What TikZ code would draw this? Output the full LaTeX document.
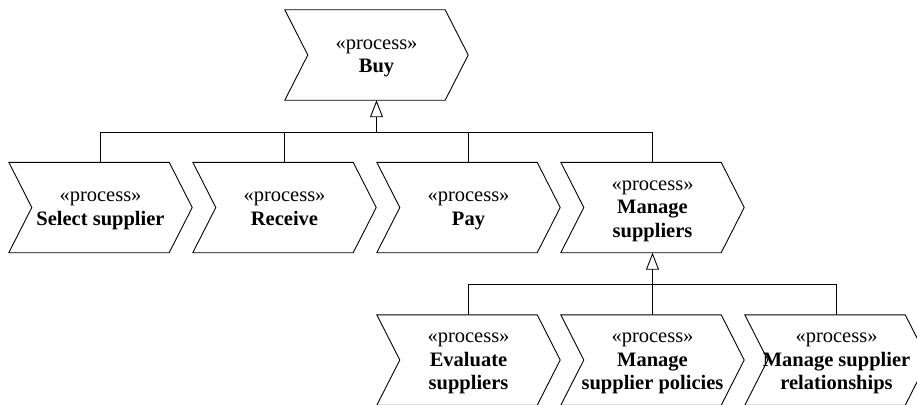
\documentclass[tikz,border=0pt]{standalone}
\usepackage{fontspec}
\setmainfont{Liberation Serif}
\newfontfamily\procfont{Liberation Serif}
\usetikzlibrary{arrows.meta}
\tikzset{
  proc/.style={rectangle, minimum width=183pt, minimum height=90pt, inner sep=0pt,
    align=center, font=\procfont\fontsize{20.5}{23.5}\selectfont},
  outline/.style={draw, line width=0.9pt, line join=miter},
  link/.style={draw, line width=0.9pt},
  gen/.style={link, -{Triangle[open, length=17pt, width=13pt, line width=0.9pt]}},
}
% stereotype line with a fixed top strut, name lines in bold,
% the last name line with a fixed bottom strut
\newcommand\stereo{\rule{0pt}{17pt}«process»}
\newcommand\pname[1]{\textbf{#1}}
\newcommand\plast[1]{\textbf{#1}\rule[-5pt]{0pt}{5pt}}
\begin{document}
\begin{tikzpicture}[x=1pt, y=1pt]
\useasboundingbox (0,0) rectangle (917,-404);
\clip (0,0) rectangle (917,-404);

% process nodes (text only; outlines drawn below)
\node[proc] (buy) at (376.5,-55)    {\stereo\\\plast{Buy}};
\node[proc] (sel) at (100.5,-207.5) {\stereo\\\plast{Select supplier}};
\node[proc] (rcv) at (284.5,-207.5) {\stereo\\\plast{Receive}};
\node[proc] (pay) at (468.5,-207.5) {\stereo\\\plast{Pay}};
\node[proc] (mgs) at (652.5,-207.5) {\stereo\\\pname{Manage}\\\plast{suppliers}};
\node[proc] (evl) at (468.5,-360)   {\stereo\\\pname{Evaluate}\\\plast{suppliers}};
\node[proc] (pol) at (652.5,-360)   {\stereo\\\pname{Manage}\\\plast{supplier policies}};
\node[proc] (rel) at (836.5,-360)   {\stereo\\\pname{Manage supplier}\\\plast{relationships}};

% chevron outlines
\foreach \n in {buy,sel,rcv,pay,mgs,evl,pol,rel}
  \draw[outline] (\n.north west) -- ([xshift=-23pt]\n.north east) -- (\n.east)
    -- ([xshift=-23pt]\n.south east) -- (\n.south west) -- ([xshift=23pt]\n.west) -- cycle;

% generalisation trees
\coordinate (bar1) at (0,-132);
\coordinate (bar2) at (0,-284);
\coordinate (j1) at (buy.south |- bar1);
\coordinate (j2) at (mgs.south |- bar2);
\foreach \c in {sel,rcv,pay,mgs} \draw[link] (\c.north) |- (j1);
\draw[gen] (j1) -- (buy.south);
\foreach \c in {evl,pol,rel} \draw[link] (\c.north) |- (j2);
\draw[gen] (j2) -- (mgs.south);
\end{tikzpicture}
\end{document}
